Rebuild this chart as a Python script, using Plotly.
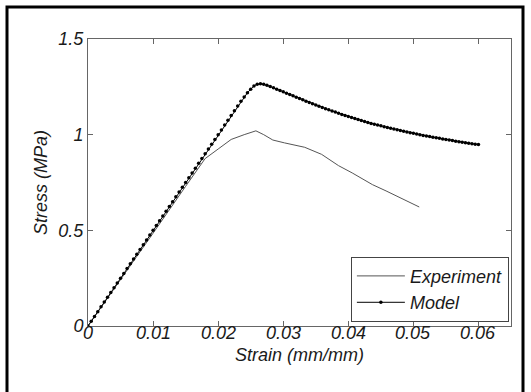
import plotly.graph_objects as go

# ---- data ----
model_strain = [
    0.0000, 0.0005, 0.0010, 0.0015, 0.0020, 0.0025, 0.0030, 0.0035, 0.0040, 0.0045,
    0.0050, 0.0055, 0.0060, 0.0065, 0.0070, 0.0075, 0.0080, 0.0085, 0.0090, 0.0095,
    0.0100, 0.0105, 0.0110, 0.0115, 0.0120, 0.0125, 0.0130, 0.0135, 0.0140, 0.0145,
    0.0150, 0.0155, 0.0160, 0.0165, 0.0170, 0.0175, 0.0180, 0.0185, 0.0190, 0.0195,
    0.0200, 0.0205, 0.0210, 0.0215, 0.0220, 0.0225, 0.0230, 0.0235, 0.0240, 0.0245,
    0.0250, 0.0255, 0.0260, 0.0265, 0.0270, 0.0275, 0.0280, 0.0285, 0.0290, 0.0295,
    0.0300, 0.0305, 0.0310, 0.0315, 0.0320, 0.0325, 0.0330, 0.0335, 0.0340, 0.0345,
    0.0350, 0.0355, 0.0360, 0.0365, 0.0370, 0.0375, 0.0380, 0.0385, 0.0390, 0.0395,
    0.0400, 0.0405, 0.0410, 0.0415, 0.0420, 0.0425, 0.0430, 0.0435, 0.0440, 0.0445,
    0.0450, 0.0455, 0.0460, 0.0465, 0.0470, 0.0475, 0.0480, 0.0485, 0.0490, 0.0495,
    0.0500, 0.0505, 0.0510, 0.0515, 0.0520, 0.0525, 0.0530, 0.0535, 0.0540, 0.0545,
    0.0550, 0.0555, 0.0560, 0.0565, 0.0570, 0.0575, 0.0580, 0.0585, 0.0590, 0.0595,
    0.0600,
]
model_stress = [
    0.000, 0.025, 0.050, 0.075, 0.100, 0.125, 0.150, 0.175, 0.200, 0.225,
    0.250, 0.275, 0.300, 0.325, 0.350, 0.375, 0.400, 0.425, 0.450, 0.475,
    0.500, 0.525, 0.550, 0.575, 0.600, 0.625, 0.650, 0.675, 0.700, 0.725,
    0.750, 0.775, 0.800, 0.825, 0.850, 0.875, 0.900, 0.925, 0.950, 0.975,
    1.000, 1.025, 1.050, 1.075, 1.100, 1.125, 1.150, 1.174, 1.197, 1.219,
    1.238, 1.254, 1.264, 1.266, 1.263, 1.258, 1.252, 1.245, 1.238, 1.231,
    1.224, 1.217, 1.210, 1.203, 1.196, 1.189, 1.182, 1.175, 1.168, 1.162,
    1.155, 1.149, 1.142, 1.136, 1.130, 1.124, 1.118, 1.112, 1.106, 1.100,
    1.095, 1.090, 1.084, 1.079, 1.074, 1.069, 1.064, 1.059, 1.055, 1.050,
    1.046, 1.042, 1.038, 1.034, 1.030, 1.026, 1.022, 1.018, 1.014, 1.010,
    1.007, 1.003, 1.000, 0.996, 0.993, 0.990, 0.987, 0.984, 0.981, 0.978,
    0.975, 0.972, 0.969, 0.966, 0.963, 0.960, 0.958, 0.955, 0.953, 0.950,
    0.948,
]

exp_strain = [0.0, 0.005, 0.010, 0.015, 0.018, 0.020, 0.022, 0.024, 0.0258, 0.0270,
              0.0284, 0.0302, 0.0333, 0.0359, 0.0385, 0.0406, 0.0437, 0.0458, 0.0509]
exp_stress = [0.0, 0.24, 0.485, 0.73, 0.875, 0.925, 0.975, 1.0, 1.02, 1.0,
              0.972, 0.957, 0.934, 0.897, 0.838, 0.800, 0.739, 0.706, 0.622]

x_ticks = [0, 0.01, 0.02, 0.03, 0.04, 0.05, 0.06]
x_ticklabels = ["0", "0.01", "0.02", "0.03", "0.04", "0.05", "0.06"]
y_ticks = [0, 0.5, 1.0, 1.5]
y_ticklabels = ["0", "0.5", "1", "1.5"]

FONT = "Liberation Sans, Arial, sans-serif"
FS = 18
tfont = dict(family=FONT, size=FS, color="#1a1a1a", style="italic")

# plot-area geometry in pixels (for placing text relative to the axes)
L, R, T, B = 88, 20, 39, 66
PH = 392 - T - B

fig = go.Figure()
fig.add_trace(go.Scatter(
    x=exp_strain, y=exp_stress, mode="lines", name="Experiment",
    line=dict(color="#555555", width=1),
))
fig.add_trace(go.Scatter(
    x=model_strain, y=model_stress, mode="lines+markers", name="Model",
    line=dict(color="#000000", width=1),
    marker=dict(color="#000000", size=3.5),
))

axis_common = dict(
    showline=True, linecolor="#666666", linewidth=1, mirror="ticks",
    ticks="inside", ticklen=5, tickcolor="#666666", tickwidth=1,
    showgrid=False, zeroline=False,
    tickfont=tfont,
)

fig.update_layout(
    width=531, height=392,
    margin=dict(l=L, r=R, t=T, b=B),
    paper_bgcolor="white", plot_bgcolor="white",
    font=tfont,
    xaxis=dict(range=[0, 0.065], tickvals=x_ticks, showticklabels=False,
               **axis_common),
    yaxis=dict(range=[0, 1.5], tickvals=y_ticks, ticktext=y_ticklabels,
               title=dict(text="Stress (MPa)", standoff=6, font=tfont),
               **axis_common),
    legend=dict(x=0.995, y=0.015, xanchor="right", yanchor="bottom",
                bgcolor="white", bordercolor="#444444", borderwidth=1,
                font=tfont, tracegroupgap=0, itemwidth=48),
    showlegend=True,
)

# x tick labels sit tight under the axis, as in the reference
for v, lab in zip(x_ticks, x_ticklabels):
    fig.add_annotation(x=v, xref="x", y=(326 - 333) / PH, yref="paper",
                       text=lab, showarrow=False, font=tfont,
                       xanchor="center", yanchor="middle", borderpad=0)

# x axis title
fig.add_annotation(x=0.5, xref="paper", y=(326 - 355) / PH, yref="paper",
                   text="Strain (mm/mm)", showarrow=False, font=tfont,
                   xanchor="center", yanchor="middle", borderpad=0)

# outer black frame of the figure image
fig.add_shape(type="rect", xref="paper", yref="paper",
              x0=(7 - L) / 423, x1=(523 - L) / 423,
              y0=(326 - 420) / PH, y1=(326 - 7) / PH,
              line=dict(color="black", width=3), fillcolor="rgba(0,0,0,0)", layer="below")

fig.write_html("out.html")
